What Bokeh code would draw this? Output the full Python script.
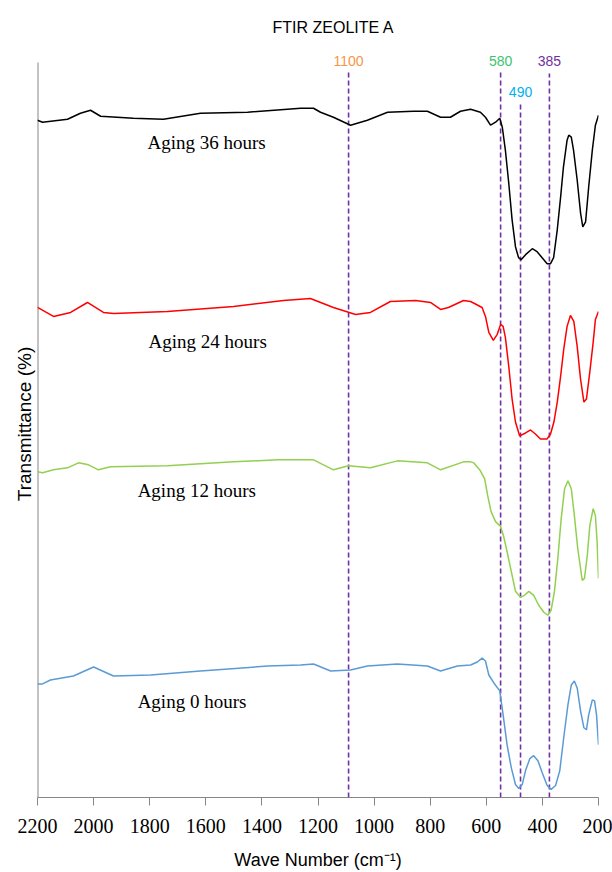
from bokeh.plotting import figure
from bokeh.models import Range1d, FixedTicker
from bokeh.core.properties import value
from bokeh.embed import file_html
from bokeh.resources import INLINE

# ---- data (wavenumber cm-1, transmittance in arbitrary offset units) ----
w36 = [2200, 2182, 2093, 2047, 2011, 1975, 1858, 1751, 1619, 1451,
       1309, 1262, 1216, 1191, 1145, 1084, 1024, 952, 860, 810,
       763, 728, 692, 656, 621, 603, 585, 567, 552, 543,
       532, 520, 508, 496, 485, 476, 460, 436, 419, 401,
       383, 371, 360, 347, 335, 325, 312, 306, 297, 289,
       276, 264, 256, 246, 235, 222, 211, 200]
t36 = [680, 678, 681, 687, 690, 684, 682, 681, 687, 688,
       691, 692, 692, 688, 683, 675, 680, 688, 689, 689,
       683, 683, 689, 691, 688, 683, 675, 678, 682, 673,
       650, 617, 580, 553, 542, 540, 545, 551, 548, 542,
       536, 536, 542, 570, 603, 633, 660, 665, 663, 650,
       620, 587, 573, 578, 613, 650, 675, 685]

w24 = [2200, 2143, 2082, 2022, 1965, 1929, 1737, 1501, 1323, 1227,
       1145, 1066, 1013, 942, 852, 799, 763, 735, 681, 656,
       615, 603, 591, 575, 561, 549, 540, 532, 520, 508,
       496, 481, 460, 442, 425, 407, 383, 371, 359, 347,
       335, 324, 312, 300, 288, 276, 264, 252, 243, 231,
       219, 211, 200]
t24 = [492, 483, 487, 497, 487, 486, 488, 493, 499, 501,
       492, 485, 487, 498, 499, 497, 490, 492, 499, 498,
       492, 483, 467, 459, 465, 475, 473, 462, 433, 400,
       377, 363, 366, 369, 365, 360, 360, 365, 377, 397,
       423, 450, 473, 484, 478, 453, 420, 397, 400, 427,
       457, 480, 488]

w12 = [2200, 2182, 2143, 2093, 2054, 2018, 1983, 1940, 1737, 1501,
       1344, 1216, 1145, 1091, 1013, 917, 810, 763, 681, 656,
       645, 621, 606, 595, 583, 567, 549, 538, 526, 511,
       496, 478, 464, 448, 431, 413, 395, 381, 369, 357,
       345, 333, 321, 309, 297, 286, 274, 258, 250, 240,
       231, 219, 211, 205, 200]
t12 = [327, 326, 329, 331, 336, 334, 329, 332, 333, 337,
       339, 339, 329, 333, 331, 338, 336, 329, 337, 337,
       336, 328, 320, 303, 287, 277, 272, 262, 247, 227,
       207, 201, 203, 207, 203, 193, 186, 183, 188, 207,
       240, 280, 310, 318, 310, 283, 250, 218, 220, 243,
       273, 290, 283, 257, 220]

w0 = [2200, 2182, 2154, 2072, 2000, 1929, 1797, 1619, 1380, 1262,
      1216, 1155, 1084, 1024, 917, 810, 763, 703, 656, 632,
      615, 603, 591, 573, 552, 540, 526, 511, 496, 484,
      472, 460, 445, 431, 416, 401, 383, 369, 353, 338,
      324, 309, 297, 286, 276, 264, 252, 243, 235, 222,
      214, 207, 200]
t0 = [114, 114, 118, 122, 131, 122, 123, 127, 132, 133,
      134, 127, 128, 132, 134, 132, 127, 132, 133, 136,
      140, 137, 123, 115, 107, 83, 53, 30, 13, 9,
      13, 27, 39, 42, 37, 25, 12, 8, 12, 27,
      60, 93, 113, 117, 110, 87, 70, 68, 83, 98,
      97, 83, 53]

series_labels = ["Aging 36 hours", "Aging 24 hours", "Aging 12 hours", "Aging 0 hours"]
series_colors = ["#000000", "#FF0000", "#92D050", "#5B9BD5"]

peak_labels = ["1100", "580", "490", "385"]
peak_pos = [1091, 549, 478, 375]          # where the dashed markers sit on the axis
peak_colors = ["#F79646", "#3CC46C", "#00B0F0", "#7030A0"]

xticks = [2200, 2000, 1800, 1600, 1400, 1200, 1000, 800, 600, 400, 200]

# ---- figure ----
p = figure(width=612, height=872, output_backend="svg", toolbar_location=None,
           x_range=Range1d(2200, 200), y_range=Range1d(0, 750),
           min_border_left=37, min_border_right=14, min_border_top=50, min_border_bottom=72)
p.xgrid.grid_line_color = None
p.ygrid.grid_line_color = None
p.outline_line_color = None

# title
p.title.text = "FTIR ZEOLITE A"
p.title.text_font = "Liberation Sans"
p.title.text_font_size = "16px"
p.title.text_font_style = "normal"
p.title.text_color = "#000000"
p.title.align = "left"
p.title.offset = 235
p.title.vertical_align = "top"
p.title.standoff = 25

# x axis
xa = p.xaxis[0]
xa.ticker = FixedTicker(ticks=xticks)
xa.axis_line_color = "#868686"
xa.major_tick_line_color = "#868686"
xa.major_tick_in = 0
xa.major_tick_out = 8
xa.minor_tick_line_color = None
xa.major_label_text_font = "Liberation Serif"
xa.major_label_text_font_size = "20px"
xa.major_label_text_color = "#000000"
xa.major_label_standoff = 13
xa.axis_label = "Wave Number (cm\u207b\u00b9)"
xa.axis_label_text_font = "Liberation Sans"
xa.axis_label_text_font_size = "18px"
xa.axis_label_text_font_style = "normal"
xa.axis_label_text_color = "#000000"
xa.axis_label_standoff = 14

# y axis: title only, its line is drawn below so that it stops under the peak labels
ya = p.yaxis[0]
ya.ticker = FixedTicker(ticks=[])
ya.axis_line_color = None
ya.major_tick_line_color = None
ya.minor_tick_line_color = None
ya.axis_label = "Transmittance (%)"
ya.axis_label_text_font = "Liberation Sans"
ya.axis_label_text_font_size = "19px"
ya.axis_label_text_font_style = "normal"
ya.axis_label_text_color = "#000000"
ya.axis_label_standoff = 3
p.segment(x0=[2200], y0=[0], x1=[2200], y1=[738], line_color="#868686", line_width=2)

# dashed peak markers
tops = [728, 730, 697, 727]
p.segment(x0=peak_pos, y0=[0] * 4, x1=peak_pos, y1=tops, line_color="#7030A0",
          line_width=1.6, line_dash="5 3")

# spectra
for w, t, c in zip([w36, w24, w12, w0], [t36, t24, t12, t0], series_colors):
    p.line(w, t, line_color=c, line_width=1.5)

# series annotations
ann_x = [1808, 1804, 1843, 1843]
ann_y = [658, 458, 308, 96]
p.text(x=ann_x, y=ann_y, text=series_labels, text_font=value("Liberation Serif"),
       text_font_size="19px", text_align="left", text_baseline="middle", text_color="#000000")

# peak labels
lab_y = [739, 739, 708, 739]
p.text(x=peak_pos, y=lab_y, text=peak_labels, text_color=peak_colors,
       text_font=value("Liberation Sans"), text_font_size="14px",
       text_align="center", text_baseline="middle")

open("out.html", "w").write(file_html(p, INLINE))
